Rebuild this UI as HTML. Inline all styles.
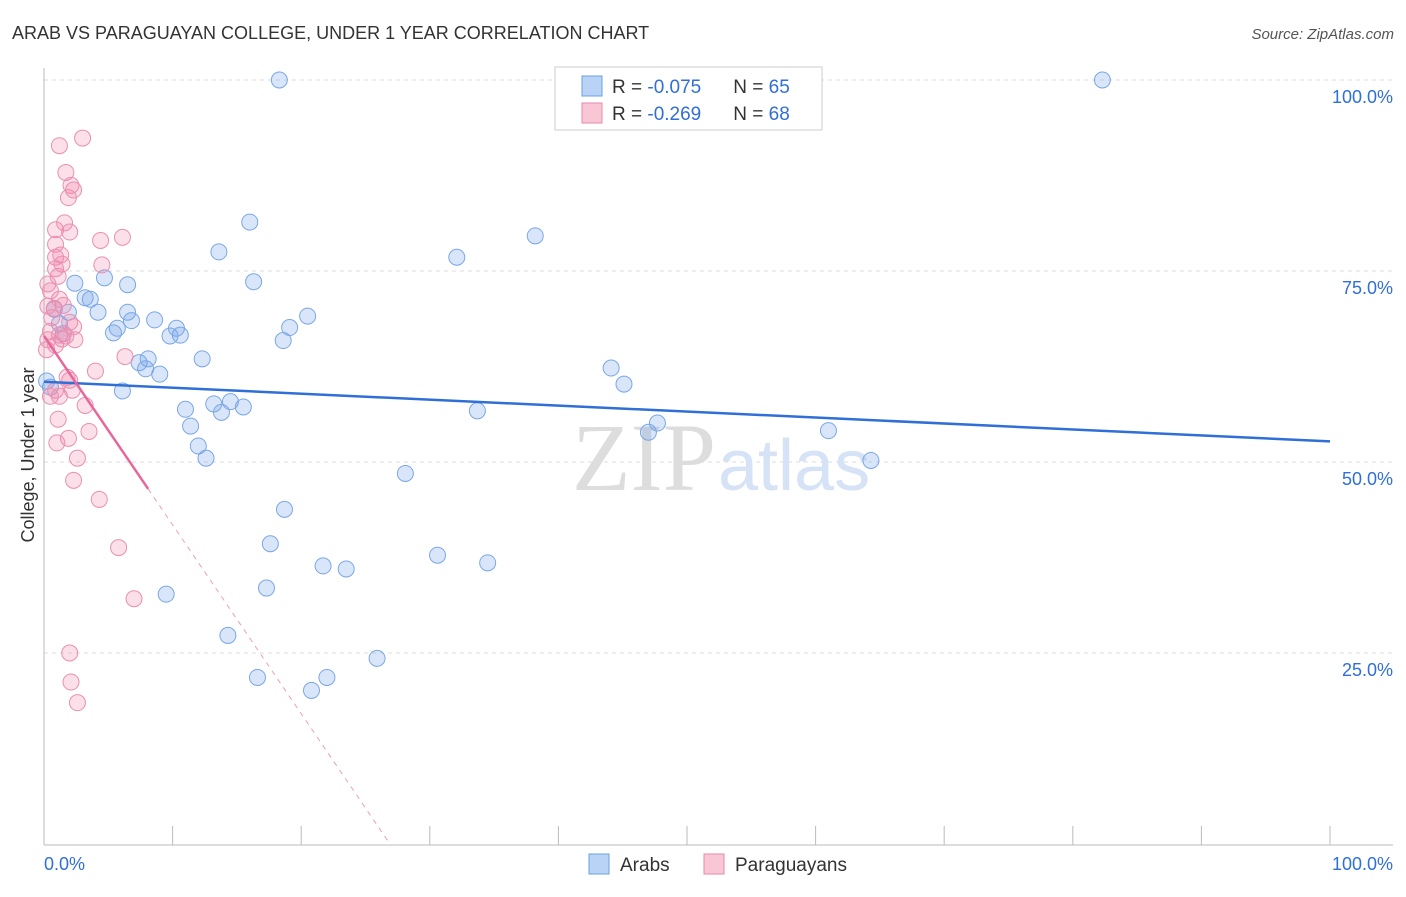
<!DOCTYPE html>
<html><head><meta charset="utf-8"><style>
body{margin:0;background:#fff;font-family:"Liberation Sans",sans-serif}
</style></head><body>
<svg width="1406" height="892" xmlns="http://www.w3.org/2000/svg">
<text x="12" y="39" font-size="18" fill="#333">ARAB VS PARAGUAYAN COLLEGE, UNDER 1 YEAR CORRELATION CHART</text>
<text x="1394" y="39" font-size="15" fill="#555" font-style="italic" text-anchor="end">Source: ZipAtlas.com</text>
<g id="grid"></g>
<text x="716" y="490" font-size="96" fill="#ddd" font-family="Liberation Serif" text-anchor="end">ZIP</text>
<text x="718" y="490" font-size="72" fill="#d6e2f5">atlas</text>
<g id="pts"></g>
<g id="lines"></g>
<text x="34" y="455" font-size="18" fill="#333" transform="rotate(-90 34 455)" text-anchor="middle">College, Under 1 year</text>
<g>
<rect x="555" y="67" width="267" height="63" fill="#fff" stroke="#ccc"/>
<rect x="582" y="76" width="20" height="20" fill="#b8d3f5" stroke="#6a9fe0"/>
<rect x="582" y="103" width="20" height="20" fill="#f9c6d6" stroke="#e88aab"/>
<text x="612" y="93" font-size="19" fill="#333">R = <tspan fill="#2f6fd6">-0.075</tspan><tspan dx="32">N = </tspan><tspan fill="#2f6fd6">65</tspan></text>
<text x="612" y="120" font-size="19" fill="#333">R = <tspan fill="#2f6fd6">-0.269</tspan><tspan dx="32">N = </tspan><tspan fill="#2f6fd6">68</tspan></text>
</g>
<g>
<rect x="589" y="854" width="20" height="20" fill="#b8d3f5" stroke="#6a9fe0"/>
<text x="620" y="871" font-size="19" fill="#333">Arabs</text>
<rect x="704" y="854" width="20" height="20" fill="#f9c6d6" stroke="#e88aab"/>
<text x="735" y="871" font-size="19" fill="#333">Paraguayans</text>
</g>
</svg>
<script>
const yTicks=[25,50,75,100];
const yTickLabels=["25.0%","50.0%","75.0%","100.0%"];
const arabX=[18.3,82.3,16.0,13.6,32.1,38.2,16.3,2.4,4.7,6.5,3.6,3.2,1.9,4.2,6.5,6.8,5.7,5.4,8.6,10.3,10.6,9.8,1.2,1.5,19.1,20.5,18.6,8.1,7.4,7.9,9.0,12.3,44.1,45.1,6.1,11.0,13.2,14.5,15.5,13.8,11.4,33.7,47.7,47.0,61.0,64.3,12.0,12.6,28.1,18.7,17.6,30.6,34.5,21.7,23.5,17.3,9.5,14.3,25.9,16.6,22.0,20.8,0.2,0.5,0.8];
const arabY=[100,100,81.4,77.5,76.8,79.6,73.6,73.4,74.1,73.2,71.3,71.5,69.6,69.6,69.6,68.5,67.5,66.9,68.6,67.5,66.6,66.5,68.1,66.8,67.6,69.1,65.9,63.5,63.0,62.2,61.5,63.5,62.3,60.2,59.3,56.9,57.6,57.9,57.2,56.5,54.7,56.7,55.1,53.9,54.1,50.2,52.1,50.5,48.5,43.8,39.3,37.8,36.8,36.4,36.0,33.5,32.7,27.3,24.3,21.8,21.8,20.1,60.6,59.8,70.0];
const parX=[3.0,1.2,1.7,2.1,2.3,1.9,1.6,0.9,2.0,0.9,4.4,6.1,0.9,1.3,1.4,4.5,0.9,1.1,0.3,0.5,1.2,1.5,0.3,0.6,2.0,2.3,0.5,1.2,1.7,2.4,0.3,0.9,0.2,6.3,4.0,1.8,2.0,0.9,2.2,0.5,1.2,3.2,1.1,3.5,1.9,1.0,2.6,2.3,4.3,5.8,7.0,2.0,2.1,2.6,1.4,0.8];
const parY=[92.4,91.4,87.9,86.2,85.6,84.6,81.3,80.4,80.1,78.5,79.0,79.4,76.8,77.1,75.9,75.8,75.3,74.3,73.3,72.4,71.3,70.5,70.4,68.9,68.3,67.7,67.1,66.6,66.5,66.0,66.0,65.3,64.7,63.8,61.9,61.1,60.7,59.4,59.4,58.6,58.6,57.4,55.6,54.0,53.1,52.5,50.5,47.6,45.1,38.8,32.1,25.0,21.2,18.5,66.1,70.1];
const arabTrend=[60.5,52.7];
const parTrend=[66.5,0,26.9,8.1];
const NS="http://www.w3.org/2000/svg";
const X=v=>44+v*12.86, Y=v=>844-v*7.64;
function mk(t,a,p){const e=document.createElementNS(NS,t);for(const k in a)e.setAttribute(k,a[k]);p.appendChild(e);return e;}
const g=document.getElementById('grid');
yTicks.forEach((t,i)=>{
 const l=mk('line',{x1:44,x2:1393,y1:Y(t),y2:Y(t),stroke:'#ddd','stroke-dasharray':'4,4'},g);
 
 
 const tx=mk('text',{x:1393,y:Y(t)+23,'font-size':18,fill:'#2f6fd6','text-anchor':'end'},g);
 tx.textContent=yTickLabels[i];
 
 
});
mk('line',{x1:44,x2:44,y1:68,y2:845,stroke:'#bbb'},g);
mk('line',{x1:44,x2:1393,y1:845,y2:845,stroke:'#bbb'},g);
for(let i=0;i<=10;i++){mk('line',{x1:X(i*10),x2:X(i*10),y1:826,y2:845,stroke:'#bbb'},g);}
let t0=mk('text',{x:44,y:870,'font-size':18,fill:'#2f6fd6'},g);t0.textContent='0.0%';

let t1=mk('text',{x:1393,y:870,'font-size':18,fill:'#2f6fd6','text-anchor':'end'},g);t1.textContent='100.0%';

const p=document.getElementById('pts');
arabX.forEach((x,i)=>{const c=mk('circle',{cx:X(x),cy:Y(arabY[i]),r:8,fill:'rgba(120,165,235,0.28)',stroke:'#7aa7e6','stroke-width':1},p);
 
 });
parX.forEach((x,i)=>{const c=mk('circle',{cx:X(x),cy:Y(parY[i]),r:8,fill:'rgba(240,140,175,0.28)',stroke:'#eb8fb0','stroke-width':1},p);
 
 });
const L=document.getElementById('lines');
const bl=mk('line',{x1:X(0),y1:Y(arabTrend[0]),x2:X(100),y2:Y(arabTrend[1]),stroke:'#2f6fd6','stroke-width':2.5},L);

const py=x=>parTrend[0]+(parTrend[1]-parTrend[0])*x/parTrend[2];
const ps=mk('line',{x1:X(0),y1:Y(py(0)),x2:X(parTrend[3]),y2:Y(py(parTrend[3])),stroke:'#e8679a','stroke-width':2.5},L);

const pd=mk('line',{x1:X(parTrend[3]),y1:Y(py(parTrend[3])),x2:X(parTrend[2]),y2:Y(0),stroke:'#e8a0bb','stroke-width':1,'stroke-dasharray':'5,5'},L);

</script>
</body></html>
